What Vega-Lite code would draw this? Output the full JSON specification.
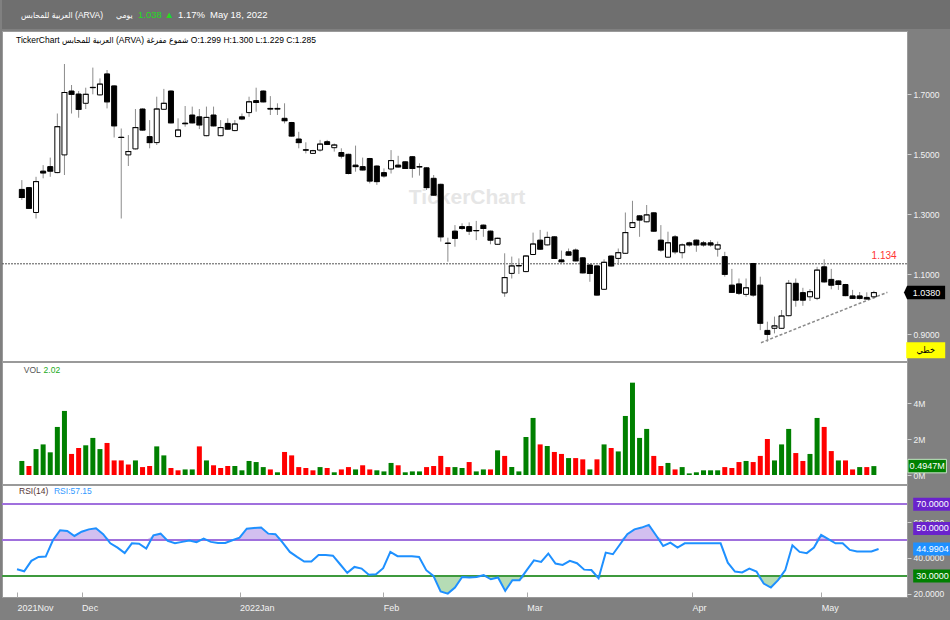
{
  "$schema": "https://vega.github.io/schema/vega-lite/v6.json",
  "background": "#808080",
  "padding": {"left": 0, "top": 0, "right": 0, "bottom": 14},
  "spacing": 1,
  "config": {
    "font": "Liberation Sans, DejaVu Sans Condensed, DejaVu Sans, sans-serif",
    "view": {"stroke": "#9a9a9a", "fill": "#ffffff", "strokeWidth": 1},
    "axis": {"grid": false, "domain": false, "title": null, "labelColor": "#f2f2f2", "tickColor": "#d0d0d0", "labelFontSize": 8.5, "tickSize": 4, "labelPadding": 2, "labelOverlap": false},
    "title": {"anchor": "start", "frame": "group", "fontWeight": "normal"}
  },
  "datasets": {
    "ohlc": [
      {"i":0,"o":1.382,"h":1.413,"l":1.347,"c":1.355,"v":780000,"vd":"up","r":33.7},
      {"i":1,"o":1.388,"h":1.390,"l":1.317,"c":1.319,"v":500000,"vd":"down","r":32.6},
      {"i":2,"o":1.305,"h":1.424,"l":1.285,"c":1.408,"v":1440000,"vd":"up","r":38.4},
      {"i":3,"o":1.443,"h":1.463,"l":1.419,"c":1.437,"v":1700000,"vd":"up","r":40.6},
      {"i":4,"o":1.458,"h":1.488,"l":1.424,"c":1.443,"v":1260000,"vd":"up","r":40.8},
      {"i":5,"o":1.438,"h":1.635,"l":1.436,"c":1.591,"v":2670000,"vd":"up","r":49.9},
      {"i":6,"o":1.497,"h":1.800,"l":1.430,"c":1.705,"v":3560000,"vd":"up","r":55.5},
      {"i":7,"o":1.710,"h":1.730,"l":1.635,"c":1.699,"v":1170000,"vd":"down","r":55.1},
      {"i":8,"o":1.700,"h":1.710,"l":1.621,"c":1.649,"v":1500000,"vd":"down","r":52.3},
      {"i":9,"o":1.669,"h":1.721,"l":1.650,"c":1.699,"v":1650000,"vd":"up","r":54.7},
      {"i":10,"o":1.721,"h":1.788,"l":1.699,"c":1.722,"v":2060000,"vd":"up","r":56.0},
      {"i":11,"o":1.697,"h":1.752,"l":1.695,"c":1.733,"v":1440000,"vd":"up","r":56.6},
      {"i":12,"o":1.767,"h":1.780,"l":1.652,"c":1.674,"v":1780000,"vd":"down","r":53.3},
      {"i":13,"o":1.727,"h":1.729,"l":1.555,"c":1.594,"v":810000,"vd":"down","r":48.2},
      {"i":14,"o":1.556,"h":1.585,"l":1.285,"c":1.555,"v":810000,"vd":"down","r":45.8},
      {"i":15,"o":1.497,"h":1.563,"l":1.460,"c":1.508,"v":590000,"vd":"down","r":42.7},
      {"i":16,"o":1.517,"h":1.650,"l":1.515,"c":1.588,"v":810000,"vd":"up","r":48.2},
      {"i":17,"o":1.650,"h":1.652,"l":1.578,"c":1.580,"v":440000,"vd":"down","r":48.0},
      {"i":18,"o":1.558,"h":1.613,"l":1.519,"c":1.538,"v":500000,"vd":"down","r":45.3},
      {"i":19,"o":1.538,"h":1.691,"l":1.530,"c":1.650,"v":1590000,"vd":"up","r":52.7},
      {"i":20,"o":1.649,"h":1.717,"l":1.647,"c":1.669,"v":1090000,"vd":"up","r":53.6},
      {"i":21,"o":1.710,"h":1.712,"l":1.602,"c":1.604,"v":390000,"vd":"down","r":49.5},
      {"i":22,"o":1.558,"h":1.619,"l":1.556,"c":1.580,"v":260000,"vd":"down","r":48.2},
      {"i":23,"o":1.603,"h":1.660,"l":1.591,"c":1.601,"v":310000,"vd":"up","r":49.0},
      {"i":24,"o":1.630,"h":1.658,"l":1.602,"c":1.604,"v":310000,"vd":"up","r":49.7},
      {"i":25,"o":1.624,"h":1.650,"l":1.583,"c":1.597,"v":1590000,"vd":"down","r":48.8},
      {"i":26,"o":1.561,"h":1.658,"l":1.559,"c":1.622,"v":810000,"vd":"up","r":50.8},
      {"i":27,"o":1.630,"h":1.658,"l":1.592,"c":1.594,"v":540000,"vd":"down","r":49.0},
      {"i":28,"o":1.561,"h":1.613,"l":1.559,"c":1.588,"v":390000,"vd":"down","r":48.4},
      {"i":29,"o":1.602,"h":1.619,"l":1.581,"c":1.583,"v":500000,"vd":"down","r":48.4},
      {"i":30,"o":1.578,"h":1.613,"l":1.576,"c":1.600,"v":500000,"vd":"up","r":49.9},
      {"i":31,"o":1.624,"h":1.635,"l":1.613,"c":1.617,"v":260000,"vd":"up","r":51.4},
      {"i":32,"o":1.638,"h":1.691,"l":1.624,"c":1.674,"v":780000,"vd":"up","r":56.4},
      {"i":33,"o":1.678,"h":1.721,"l":1.641,"c":1.672,"v":720000,"vd":"up","r":56.8},
      {"i":34,"o":1.710,"h":1.712,"l":1.672,"c":1.674,"v":440000,"vd":"up","r":57.0},
      {"i":35,"o":1.652,"h":1.693,"l":1.630,"c":1.650,"v":310000,"vd":"down","r":53.6},
      {"i":36,"o":1.652,"h":1.669,"l":1.630,"c":1.650,"v":150000,"vd":"up","r":53.3},
      {"i":37,"o":1.619,"h":1.669,"l":1.602,"c":1.611,"v":1280000,"vd":"down","r":48.6},
      {"i":38,"o":1.605,"h":1.607,"l":1.558,"c":1.560,"v":1090000,"vd":"down","r":43.4},
      {"i":39,"o":1.550,"h":1.574,"l":1.519,"c":1.538,"v":440000,"vd":"down","r":40.6},
      {"i":40,"o":1.514,"h":1.539,"l":1.502,"c":1.513,"v":390000,"vd":"down","r":38.0},
      {"i":41,"o":1.502,"h":1.514,"l":1.500,"c":1.511,"v":260000,"vd":"down","r":38.0},
      {"i":42,"o":1.513,"h":1.547,"l":1.508,"c":1.533,"v":440000,"vd":"up","r":41.7},
      {"i":43,"o":1.541,"h":1.547,"l":1.530,"c":1.532,"v":390000,"vd":"down","r":41.7},
      {"i":44,"o":1.521,"h":1.535,"l":1.508,"c":1.530,"v":150000,"vd":"up","r":41.3},
      {"i":45,"o":1.505,"h":1.519,"l":1.485,"c":1.493,"v":310000,"vd":"down","r":36.5},
      {"i":46,"o":1.499,"h":1.501,"l":1.432,"c":1.435,"v":440000,"vd":"down","r":31.7},
      {"i":47,"o":1.463,"h":1.528,"l":1.441,"c":1.458,"v":310000,"vd":"up","r":35.0},
      {"i":48,"o":1.458,"h":1.488,"l":1.445,"c":1.447,"v":540000,"vd":"down","r":34.1},
      {"i":49,"o":1.485,"h":1.487,"l":1.402,"c":1.410,"v":310000,"vd":"down","r":30.6},
      {"i":50,"o":1.460,"h":1.462,"l":1.397,"c":1.408,"v":260000,"vd":"up","r":30.9},
      {"i":51,"o":1.438,"h":1.452,"l":1.421,"c":1.427,"v":200000,"vd":"up","r":34.3},
      {"i":52,"o":1.450,"h":1.513,"l":1.435,"c":1.478,"v":670000,"vd":"up","r":43.4},
      {"i":53,"o":1.463,"h":1.494,"l":1.455,"c":1.457,"v":540000,"vd":"down","r":41.0},
      {"i":54,"o":1.474,"h":1.476,"l":1.450,"c":1.452,"v":150000,"vd":"up","r":41.0},
      {"i":55,"o":1.491,"h":1.493,"l":1.421,"c":1.452,"v":200000,"vd":"up","r":41.0},
      {"i":56,"o":1.458,"h":1.469,"l":1.428,"c":1.457,"v":200000,"vd":"up","r":40.6},
      {"i":57,"o":1.454,"h":1.456,"l":1.380,"c":1.388,"v":440000,"vd":"down","r":33.2},
      {"i":58,"o":1.419,"h":1.430,"l":1.361,"c":1.363,"v":500000,"vd":"down","r":30.0},
      {"i":59,"o":1.399,"h":1.401,"l":1.208,"c":1.224,"v":1060000,"vd":"down","r":21.3},
      {"i":60,"o":1.203,"h":1.221,"l":1.141,"c":1.202,"v":440000,"vd":"down","r":20.1},
      {"i":61,"o":1.243,"h":1.263,"l":1.191,"c":1.219,"v":440000,"vd":"up","r":23.5},
      {"i":62,"o":1.258,"h":1.269,"l":1.247,"c":1.252,"v":390000,"vd":"up","r":29.4},
      {"i":63,"o":1.258,"h":1.272,"l":1.230,"c":1.243,"v":720000,"vd":"down","r":29.1},
      {"i":64,"o":1.244,"h":1.277,"l":1.213,"c":1.245,"v":200000,"vd":"up","r":29.4},
      {"i":65,"o":1.263,"h":1.265,"l":1.224,"c":1.252,"v":310000,"vd":"up","r":30.4},
      {"i":66,"o":1.243,"h":1.245,"l":1.199,"c":1.213,"v":310000,"vd":"down","r":28.1},
      {"i":67,"o":1.199,"h":1.221,"l":1.197,"c":1.219,"v":1370000,"vd":"up","r":29.1},
      {"i":68,"o":1.037,"h":1.169,"l":1.024,"c":1.088,"v":1060000,"vd":"down","r":21.6},
      {"i":69,"o":1.102,"h":1.158,"l":1.085,"c":1.127,"v":440000,"vd":"up","r":27.6},
      {"i":70,"o":1.127,"h":1.152,"l":1.100,"c":1.128,"v":200000,"vd":"up","r":27.6},
      {"i":71,"o":1.108,"h":1.162,"l":1.106,"c":1.160,"v":2110000,"vd":"up","r":33.2},
      {"i":72,"o":1.165,"h":1.238,"l":1.163,"c":1.200,"v":3170000,"vd":"up","r":38.7},
      {"i":73,"o":1.213,"h":1.247,"l":1.180,"c":1.183,"v":1700000,"vd":"down","r":37.8},
      {"i":74,"o":1.197,"h":1.241,"l":1.195,"c":1.222,"v":1610000,"vd":"up","r":42.5},
      {"i":75,"o":1.224,"h":1.226,"l":1.150,"c":1.152,"v":1280000,"vd":"down","r":36.9},
      {"i":76,"o":1.147,"h":1.178,"l":1.138,"c":1.141,"v":1170000,"vd":"down","r":36.1},
      {"i":77,"o":1.174,"h":1.185,"l":1.161,"c":1.163,"v":940000,"vd":"up","r":38.4},
      {"i":78,"o":1.180,"h":1.185,"l":1.142,"c":1.144,"v":940000,"vd":"down","r":37.1},
      {"i":79,"o":1.154,"h":1.156,"l":1.102,"c":1.104,"v":870000,"vd":"down","r":33.5},
      {"i":80,"o":1.130,"h":1.132,"l":1.074,"c":1.102,"v":310000,"vd":"up","r":33.3},
      {"i":81,"o":1.127,"h":1.129,"l":1.028,"c":1.030,"v":870000,"vd":"down","r":28.7},
      {"i":82,"o":1.049,"h":1.149,"l":1.047,"c":1.139,"v":1700000,"vd":"up","r":43.0},
      {"i":83,"o":1.160,"h":1.162,"l":1.125,"c":1.127,"v":1500000,"vd":"down","r":42.1},
      {"i":84,"o":1.152,"h":1.185,"l":1.130,"c":1.171,"v":1310000,"vd":"up","r":47.7},
      {"i":85,"o":1.169,"h":1.305,"l":1.167,"c":1.238,"v":3280000,"vd":"up","r":53.3},
      {"i":86,"o":1.255,"h":1.344,"l":1.253,"c":1.271,"v":5130000,"vd":"up","r":56.0},
      {"i":87,"o":1.294,"h":1.296,"l":1.224,"c":1.280,"v":2060000,"vd":"up","r":57.0},
      {"i":88,"o":1.274,"h":1.330,"l":1.272,"c":1.297,"v":2560000,"vd":"up","r":58.5},
      {"i":89,"o":1.304,"h":1.306,"l":1.241,"c":1.243,"v":1060000,"vd":"down","r":52.7},
      {"i":90,"o":1.213,"h":1.263,"l":1.174,"c":1.180,"v":500000,"vd":"down","r":46.7},
      {"i":91,"o":1.156,"h":1.241,"l":1.154,"c":1.204,"v":670000,"vd":"up","r":48.6},
      {"i":92,"o":1.224,"h":1.230,"l":1.166,"c":1.174,"v":310000,"vd":"down","r":45.8},
      {"i":93,"o":1.171,"h":1.202,"l":1.152,"c":1.197,"v":440000,"vd":"up","r":48.2},
      {"i":94,"o":1.204,"h":1.208,"l":1.191,"c":1.197,"v":90000,"vd":"up","r":48.2},
      {"i":95,"o":1.213,"h":1.215,"l":1.174,"c":1.197,"v":150000,"vd":"up","r":48.2},
      {"i":96,"o":1.204,"h":1.210,"l":1.191,"c":1.197,"v":260000,"vd":"up","r":48.2},
      {"i":97,"o":1.204,"h":1.213,"l":1.191,"c":1.197,"v":260000,"vd":"up","r":48.2},
      {"i":98,"o":1.183,"h":1.208,"l":1.158,"c":1.197,"v":260000,"vd":"up","r":48.2},
      {"i":99,"o":1.158,"h":1.174,"l":1.091,"c":1.099,"v":440000,"vd":"down","r":37.4},
      {"i":100,"o":1.063,"h":1.117,"l":1.037,"c":1.039,"v":390000,"vd":"down","r":32.4},
      {"i":101,"o":1.067,"h":1.085,"l":1.030,"c":1.036,"v":720000,"vd":"down","r":31.9},
      {"i":102,"o":1.032,"h":1.085,"l":1.024,"c":1.054,"v":780000,"vd":"up","r":34.1},
      {"i":103,"o":1.135,"h":1.137,"l":1.024,"c":1.030,"v":720000,"vd":"down","r":32.4},
      {"i":104,"o":1.063,"h":1.091,"l":0.913,"c":0.936,"v":1060000,"vd":"down","r":25.7},
      {"i":105,"o":0.912,"h":0.941,"l":0.874,"c":0.899,"v":2000000,"vd":"down","r":23.5},
      {"i":106,"o":0.919,"h":0.958,"l":0.902,"c":0.927,"v":810000,"vd":"up","r":27.6},
      {"i":107,"o":0.919,"h":0.980,"l":0.917,"c":0.960,"v":1700000,"vd":"up","r":33.2},
      {"i":108,"o":0.961,"h":1.080,"l":0.959,"c":1.069,"v":2560000,"vd":"up","r":47.1},
      {"i":109,"o":1.069,"h":1.085,"l":0.991,"c":1.013,"v":1220000,"vd":"down","r":43.4},
      {"i":110,"o":1.038,"h":1.054,"l":0.994,"c":1.013,"v":780000,"vd":"down","r":42.7},
      {"i":111,"o":1.024,"h":1.050,"l":1.010,"c":1.041,"v":1170000,"vd":"up","r":45.8},
      {"i":112,"o":1.019,"h":1.124,"l":1.013,"c":1.113,"v":3170000,"vd":"up","r":52.9},
      {"i":113,"o":1.124,"h":1.149,"l":1.071,"c":1.074,"v":2670000,"vd":"down","r":50.5},
      {"i":114,"o":1.082,"h":1.117,"l":1.049,"c":1.063,"v":1330000,"vd":"down","r":48.2},
      {"i":115,"o":1.077,"h":1.079,"l":1.047,"c":1.065,"v":810000,"vd":"up","r":48.2},
      {"i":116,"o":1.065,"h":1.067,"l":1.026,"c":1.028,"v":810000,"vd":"down","r":44.5},
      {"i":117,"o":1.027,"h":1.047,"l":1.017,"c":1.019,"v":310000,"vd":"down","r":43.6},
      {"i":118,"o":1.027,"h":1.040,"l":1.015,"c":1.019,"v":440000,"vd":"up","r":43.6},
      {"i":119,"o":1.022,"h":1.039,"l":1.015,"c":1.017,"v":440000,"vd":"down","r":43.6},
      {"i":120,"o":1.024,"h":1.044,"l":1.017,"c":1.038,"v":494700,"vd":"up","r":44.99}
    ]
  },
  "vconcat": [
    {
      "spacing": 0,
      "bounds": "flush",
      "hconcat": [
        {"width": 114, "height": 29, "view": {"fill": "#6f6f6f", "stroke": null}, "data": {"values": []}, "mark": "point", "encoding": {},
         "title": {"text": "العربية للمحابس (ARVA)", "color": "#ffffff", "fontSize": 8.5, "offset": -19, "dx": 19}},
        {"width": 22, "height": 29, "view": {"fill": "#6f6f6f", "stroke": null}, "data": {"values": []}, "mark": "point", "encoding": {},
         "title": {"text": "يومي", "color": "#ffffff", "fontSize": 8.5, "offset": -19, "dx": 0}},
        {"width": 40, "height": 29, "view": {"fill": "#6f6f6f", "stroke": null}, "data": {"values": []}, "mark": "point", "encoding": {},
         "title": {"text": "1.038\u00a0▲", "color": "#22dd22", "fontSize": 9.5, "offset": -19, "dx": 0}},
        {"width": 32, "height": 29, "view": {"fill": "#6f6f6f", "stroke": null}, "data": {"values": []}, "mark": "point", "encoding": {},
         "title": {"text": "1.17%", "color": "#ffffff", "fontSize": 9.5, "offset": -19, "dx": 0}},
        {"width": 742, "height": 29, "view": {"fill": "#6f6f6f", "stroke": null}, "data": {"values": []}, "mark": "point", "encoding": {},
         "title": {"text": "May 18, 2022", "color": "#ffffff", "fontSize": 9.5, "offset": -19, "dx": 0}}
      ]
    },
    {
      "spacing": 1,
      "bounds": "flush",
      "vconcat": [
        {
          "width": 905,
          "height": 330,
          "title": {"text": "TickerChart العربية للمحابس (ARVA) شموع مفرغة O:1.299 H:1.300 L:1.229 C:1.285", "fontSize": 8.5, "color": "#000000", "offset": -13, "dx": 14},
          "layer": [
            {
              "data": {"values": [{"t": "TickerChart"}]},
              "mark": {"type": "text", "fontSize": 21, "fontWeight": "bold", "color": "#e6e6e6"},
              "encoding": {
                "x": {"datum": 62.7, "type": "quantitative", "scale": {"domain": [-2.09, 123.96], "nice": false, "zero": false}, "axis": null},
                "y": {"datum": 1.352, "type": "quantitative", "scale": {"domain": [0.81, 1.91], "nice": false, "zero": false}},
                "text": {"field": "t"}
              }
            },
            {
              "data": {"values": [{"lvl": 1.134}]},
              "layer": [
                {"mark": {"type": "rule", "color": "#555555", "strokeDash": [2, 1], "strokeWidth": 1}, "encoding": {"y": {"field": "lvl", "type": "quantitative"}}},
                {"mark": {"type": "text", "color": "#ff3333", "align": "right", "dy": -8, "fontSize": 10}, "encoding": {"x": {"datum": 123.2, "type": "quantitative"}, "y": {"field": "lvl", "type": "quantitative"}, "text": {"field": "lvl", "format": ".3f"}}}
              ]
            },
            {
              "data": {"values": [{"ti": 104.1, "tp": 0.871}, {"ti": 121.9, "tp": 1.039}]},
              "mark": {"type": "line", "color": "#8a8a8a", "strokeDash": [3, 2], "strokeWidth": 1.5},
              "encoding": {"x": {"field": "ti", "type": "quantitative"}, "y": {"field": "tp", "type": "quantitative"}}
            },
            {
              "data": {"name": "ohlc"},
              "layer": [
                {
                  "mark": {"type": "rule", "color": "#8c8c8c", "strokeWidth": 1},
                  "encoding": {
                    "x": {"field": "i", "type": "quantitative"},
                    "y": {"field": "l", "type": "quantitative", "axis": {"orient": "right", "values": [0.9, 1.0, 1.1, 1.2, 1.3, 1.4, 1.5, 1.6, 1.7, 1.8], "format": ".4f"}},
                    "y2": {"field": "h"}
                  }
                },
                {
                  "mark": {"type": "bar", "size": 5, "stroke": "#000000", "strokeWidth": 1},
                  "encoding": {
                    "x": {"field": "i", "type": "quantitative"},
                    "y": {"field": "o", "type": "quantitative"},
                    "y2": {"field": "c"},
                    "fill": {"condition": {"test": "datum.c >= datum.o", "value": "#ffffff"}, "value": "#000000"}
                  }
                },
                {
                  "mark": {"type": "tick", "orient": "horizontal", "size": 6, "thickness": 1, "color": "#000000"},
                  "encoding": {
                    "x": {"field": "i", "type": "quantitative"},
                    "y": {"field": "c", "type": "quantitative"}
                  }
                }
              ]
            },
            {
              "data": {"values": [{"lv": 1.038}]},
              "layer": [
                {"mark": {"type": "point", "shape": "M-1.62,0L-1.38,-0.52H1.55V0.52H-1.38Z", "size": 676, "filled": true, "color": "#000000", "opacity": 1, "clip": false},
                 "encoding": {"x": {"datum": 127.2, "type": "quantitative"}, "y": {"field": "lv", "type": "quantitative"}}},
                {"mark": {"type": "text", "color": "#ffffff", "fontSize": 9, "clip": false},
                 "encoding": {"x": {"datum": 127.4, "type": "quantitative"}, "y": {"field": "lv", "type": "quantitative"}, "text": {"field": "lv", "format": ".4f"}}}
              ]
            },
            {
              "data": {"values": [{"t": "خطي"}]},
              "layer": [
                {"mark": {"type": "point", "shape": "M-1.5,-0.62H1.5V0.62H-1.5Z", "size": 676, "filled": true, "color": "#ffff00", "opacity": 1, "clip": false},
                 "encoding": {"x": {"datum": 127.3, "type": "quantitative"}, "y": {"datum": 0.846, "type": "quantitative"}}},
                {"mark": {"type": "text", "color": "#000000", "fontSize": 9, "clip": false},
                 "encoding": {"x": {"datum": 127.3, "type": "quantitative"}, "y": {"datum": 0.846, "type": "quantitative"}, "text": {"field": "t"}}}
              ]
            }
          ]
        },
        {
          "width": 905,
          "height": 122,
          "layer": [
            {
              "data": {"name": "ohlc"},
              "mark": {"type": "bar", "size": 5},
              "encoding": {
                "x": {"field": "i", "type": "quantitative", "scale": {"domain": [-2.09, 123.96], "nice": false, "zero": false}, "axis": null},
                "y": {"field": "v", "type": "quantitative", "scale": {"domain": [-500000, 6278000], "nice": false, "zero": false}, "axis": {"orient": "right", "values": [0, 2000000, 4000000], "labelExpr": "datum.value / 1000000 + 'M'"}},
                "color": {"field": "vd", "type": "nominal", "scale": {"domain": ["up", "down"], "range": ["#008000", "#ff0000"]}, "legend": null}
              }
            },
            {
              "data": {"values": [{"t": "VOL"}]},
              "mark": {"type": "text", "align": "left", "fontSize": 8.5, "color": "#555555"},
              "encoding": {"x": {"datum": 0.28, "type": "quantitative"}, "y": {"datum": 5830000, "type": "quantitative"}, "text": {"field": "t"}}
            },
            {
              "data": {"values": [{"t": "2.02"}]},
              "mark": {"type": "text", "align": "left", "fontSize": 8.5, "color": "#22aa22"},
              "encoding": {"x": {"datum": 3.06, "type": "quantitative"}, "y": {"datum": 5830000, "type": "quantitative"}, "text": {"field": "t"}}
            },
            {
              "data": {"values": [{"lv": 494700, "t": "0.4947M"}]},
              "layer": [
                {"mark": {"type": "point", "shape": "M-1.48,-0.52H1.48V0.52H-1.48Z", "size": 676, "filled": true, "color": "#008000", "stroke": "#c8e6c8", "strokeWidth": 1, "opacity": 1, "clip": false},
                 "encoding": {"x": {"datum": 127.5, "type": "quantitative"}, "y": {"field": "lv", "type": "quantitative"}}},
                {"mark": {"type": "text", "color": "#ffffff", "fontSize": 9, "clip": false},
                 "encoding": {"x": {"datum": 127.5, "type": "quantitative"}, "y": {"field": "lv", "type": "quantitative"}, "text": {"field": "t"}}}
              ]
            }
          ]
        },
        {
          "width": 905,
          "height": 112,
          "data": {"name": "ohlc"},
          "resolve": {"scale": {"y": "independent"}},
          "layer": [
            {
              "mark": {"type": "area", "color": "#d2bff0"},
              "encoding": {
                "x": {"field": "i", "type": "quantitative", "scale": {"domain": [-2.09, 123.96], "nice": false, "zero": false}},
                "y": {"field": "r", "type": "quantitative", "scale": {"domain": [50, 80.78], "range": [55.1, 0], "clamp": true, "nice": false, "zero": false}, "axis": null},
                "y2": {"datum": 50}
              }
            },
            {
              "mark": {"type": "area", "color": "#b5dcb5"},
              "encoding": {
                "x": {"field": "i", "type": "quantitative"},
                "y": {"field": "r", "type": "quantitative", "scale": {"domain": [18.21, 30], "range": [112, 91.0], "clamp": true, "nice": false, "zero": false}, "axis": null},
                "y2": {"datum": 30}
              }
            },
            {
              "mark": {"type": "rule", "strokeWidth": 1.5, "color": "#a070dd"},
              "encoding": {"y": {"datum": 70, "type": "quantitative", "scale": {"domain": [18.21, 80.78], "nice": false, "zero": false}, "axis": null}}
            },
            {
              "mark": {"type": "rule", "strokeWidth": 1.5, "color": "#a070dd"},
              "encoding": {"y": {"datum": 50, "type": "quantitative", "scale": {"domain": [18.21, 80.78], "nice": false, "zero": false}, "axis": null}}
            },
            {
              "mark": {"type": "rule", "strokeWidth": 1.5, "color": "#3f9a3f"},
              "encoding": {"y": {"datum": 30, "type": "quantitative", "scale": {"domain": [18.21, 80.78], "nice": false, "zero": false}, "axis": null}}
            },
            {
              "mark": {"type": "line", "color": "#1e90ff", "strokeWidth": 2},
              "encoding": {
                "x": {"field": "i", "type": "quantitative", "axis": {"orient": "bottom", "values": [0, 9, 31, 51, 71, 94, 112], "labelExpr": "datum.value == 0 ? '2021Nov' : datum.value == 9 ? 'Dec' : datum.value == 31 ? '2022Jan' : datum.value == 51 ? 'Feb' : datum.value == 71 ? 'Mar' : datum.value == 94 ? 'Apr' : 'May'", "labelAlign": "left", "tickSize": -5, "labelPadding": 11, "labelFontSize": 9, "tickColor": "#aaaaaa"}},
                "y": {"field": "r", "type": "quantitative", "scale": {"domain": [18.21, 80.78], "nice": false, "zero": false}, "axis": {"orient": "right", "values": [20, 40, 60], "format": ".4f"}}
              }
            },
            {
              "data": {"values": [{"t": "RSI(14)"}]},
              "mark": {"type": "text", "align": "left", "fontSize": 8.5, "color": "#553333"},
              "encoding": {"x": {"datum": 0.28, "type": "quantitative"}, "y": {"datum": 77.4, "type": "quantitative", "scale": {"domain": [18.21, 80.78], "nice": false, "zero": false}, "axis": null}, "text": {"field": "t"}}
            },
            {
              "data": {"values": [{"t": "RSI:57.15"}]},
              "mark": {"type": "text", "align": "left", "fontSize": 8.5, "color": "#3399ff"},
              "encoding": {"x": {"datum": 5.15, "type": "quantitative"}, "y": {"datum": 77.4, "type": "quantitative", "scale": {"domain": [18.21, 80.78], "nice": false, "zero": false}, "axis": null}, "text": {"field": "t"}}
            },
            {
              "data": {"values": [{"lv": 70}]},
              "layer": [
                {"mark": {"type": "point", "shape": "M-1.48,-0.5H1.48V0.5H-1.48Z", "size": 676, "filled": true, "color": "#6a22cc", "opacity": 1, "clip": false},
                 "encoding": {"x": {"datum": 127.5, "type": "quantitative"}, "y": {"field": "lv", "type": "quantitative", "scale": {"domain": [18.21, 80.78], "nice": false, "zero": false}, "axis": null}}},
                {"mark": {"type": "text", "color": "#ffffff", "fontSize": 9, "clip": false},
                 "encoding": {"x": {"datum": 127.5, "type": "quantitative"}, "y": {"field": "lv", "type": "quantitative", "scale": {"domain": [18.21, 80.78], "nice": false, "zero": false}, "axis": null}, "text": {"field": "lv", "format": ".4f"}}}
              ]
            },
            {
              "data": {"values": [{"lv": 50}]},
              "layer": [
                {"mark": {"type": "point", "shape": "M-1.48,-0.5H1.48V0.5H-1.48Z", "size": 676, "filled": true, "color": "#6a22cc", "opacity": 1, "clip": false, "yOffset": -11.6},
                 "encoding": {"x": {"datum": 127.5, "type": "quantitative"}, "y": {"field": "lv", "type": "quantitative", "scale": {"domain": [18.21, 80.78], "nice": false, "zero": false}, "axis": null}}},
                {"mark": {"type": "text", "color": "#ffffff", "fontSize": 9, "clip": false, "dy": -11.6},
                 "encoding": {"x": {"datum": 127.5, "type": "quantitative"}, "y": {"field": "lv", "type": "quantitative", "scale": {"domain": [18.21, 80.78], "nice": false, "zero": false}, "axis": null}, "text": {"field": "lv", "format": ".4f"}}}
              ]
            },
            {
              "data": {"values": [{"lv": 44.9904}]},
              "layer": [
                {"mark": {"type": "point", "shape": "M-1.48,-0.5H1.48V0.5H-1.48Z", "size": 676, "filled": true, "color": "#1e90ff", "opacity": 1, "clip": false},
                 "encoding": {"x": {"datum": 127.5, "type": "quantitative"}, "y": {"field": "lv", "type": "quantitative", "scale": {"domain": [18.21, 80.78], "nice": false, "zero": false}, "axis": null}}},
                {"mark": {"type": "text", "color": "#ffffff", "fontSize": 9, "clip": false},
                 "encoding": {"x": {"datum": 127.5, "type": "quantitative"}, "y": {"field": "lv", "type": "quantitative", "scale": {"domain": [18.21, 80.78], "nice": false, "zero": false}, "axis": null}, "text": {"field": "lv", "format": ".4f"}}}
              ]
            },
            {
              "data": {"values": [{"lv": 30}]},
              "layer": [
                {"mark": {"type": "point", "shape": "M-1.48,-0.5H1.48V0.5H-1.48Z", "size": 676, "filled": true, "color": "#008000", "opacity": 1, "clip": false},
                 "encoding": {"x": {"datum": 127.5, "type": "quantitative"}, "y": {"field": "lv", "type": "quantitative", "scale": {"domain": [18.21, 80.78], "nice": false, "zero": false}, "axis": null}}},
                {"mark": {"type": "text", "color": "#ffffff", "fontSize": 9, "clip": false},
                 "encoding": {"x": {"datum": 127.5, "type": "quantitative"}, "y": {"field": "lv", "type": "quantitative", "scale": {"domain": [18.21, 80.78], "nice": false, "zero": false}, "axis": null}, "text": {"field": "lv", "format": ".4f"}}}
              ]
            }
          ]
        }
      ]
    }
  ]
}
